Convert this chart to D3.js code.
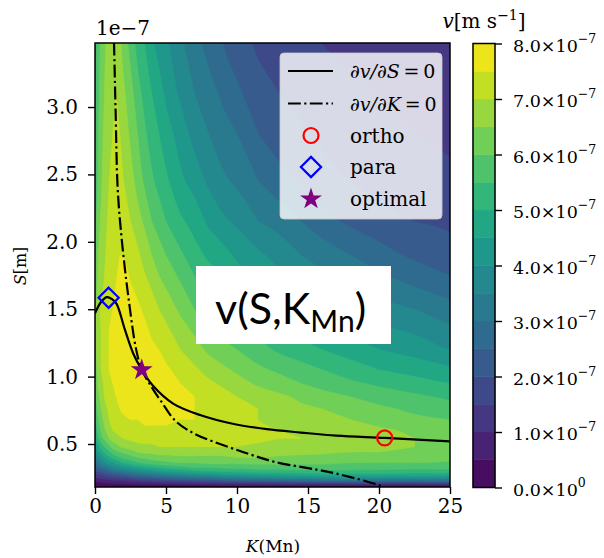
<!DOCTYPE html>
<html lang="en">
<head>
<meta charset="UTF-8">
<title>v(S,K) contour</title>
<script src="https://cdn.jsdelivr.net/npm/d3@7"></script>
<style>
  body { margin: 0; background: #fff; }
  svg { display: block; }
  text { font-family: "DejaVu Serif", serif; fill: #000; }
</style>
</head>
<body>
<svg id="chart" width="604" height="558"></svg>
<script>
// grid of the field: K (Mn) across, S (1e-7 m) up
const kGrid = [0, 0.25, 0.5, 0.75, 1, 1.25, 1.5, 1.75, 2, 2.5, 3, 3.5, 4, 4.5, 5, 6, 7, 8, 9, 10, 11.5, 13, 14.5, 16, 18, 20, 22.5, 25];
const sGrid = [0.18, 0.19, 0.2, 0.21, 0.22, 0.23, 0.24, 0.26, 0.28, 0.3, 0.33, 0.36, 0.4, 0.44, 0.48, 0.54, 0.6, 0.68, 0.76, 0.85, 0.95, 1.05, 1.2, 1.35, 1.5, 1.7, 1.9, 2.15, 2.45, 2.8, 3.1, 3.475];

// v in units of 1e-8 m/s, one row per S value (bottom to top)
const vGrid = [
  [1, 1, 1, 1, 1, 1, 1, 1, 1, 1, 1, 2, 2, 2, 2, 2, 2, 2, 2, 2, 2, 3, 3, 3, 3, 3, 3, 3],
  [2, 2, 2, 2, 2, 3, 3, 3, 3, 3, 3, 3, 3, 4, 4, 4, 4, 4, 5, 5, 5, 5, 5, 6, 6, 6, 6, 6],
  [3, 3, 3, 4, 4, 4, 4, 4, 4, 4, 5, 5, 5, 5, 5, 6, 6, 7, 7, 7, 8, 8, 8, 8, 9, 9, 9, 9],
  [4, 4, 5, 5, 5, 6, 6, 6, 6, 7, 7, 8, 8, 9, 9, 10, 11, 11, 12, 13, 13, 14, 15, 15, 16, 16, 16, 16],
  [5, 5, 6, 6, 7, 7, 8, 8, 8, 9, 10, 11, 11, 12, 13, 14, 15, 16, 17, 18, 19, 20, 21, 22, 23, 23, 23, 23],
  [7, 7, 8, 9, 9, 10, 10, 11, 11, 13, 14, 15, 15, 16, 17, 19, 20, 22, 23, 24, 25, 27, 28, 29, 30, 30, 30, 30],
  [8, 9, 10, 11, 11, 12, 13, 13, 14, 15, 17, 18, 19, 20, 21, 23, 25, 26, 27, 29, 30, 32, 33, 34, 35, 35, 35, 34],
  [11, 12, 13, 15, 16, 17, 18, 19, 20, 22, 24, 25, 27, 28, 29, 32, 34, 35, 37, 38, 40, 41, 42, 43, 44, 44, 44, 43],
  [15, 17, 18, 20, 21, 23, 24, 25, 26, 29, 31, 33, 34, 36, 37, 40, 42, 43, 45, 46, 47, 48, 49, 50, 50, 50, 49, 49],
  [19, 21, 23, 25, 27, 29, 31, 32, 34, 36, 38, 40, 42, 44, 45, 47, 49, 50, 51, 52, 53, 53, 54, 54, 54, 54, 53, 53],
  [25, 27, 30, 32, 35, 37, 38, 40, 42, 44, 47, 49, 50, 51, 53, 54, 56, 56, 57, 57, 58, 58, 58, 58, 58, 57, 57, 57],
  [29, 33, 37, 39, 42, 44, 46, 48, 50, 52, 54, 56, 57, 58, 59, 60, 60, 61, 61, 61, 61, 61, 61, 61, 60, 60, 60, 59],
  [35, 39, 43, 46, 49, 51, 53, 55, 56, 58, 60, 61, 62, 63, 63, 64, 64, 64, 64, 65, 65, 64, 64, 63, 63, 63, 62, 62],
  [39, 44, 48, 52, 54, 57, 59, 60, 61, 63, 65, 66, 66, 67, 67, 67, 67, 67, 67, 67, 67, 67, 66, 66, 65, 65, 64, 63],
  [43, 48, 53, 56, 59, 62, 63, 65, 66, 67, 68, 69, 69, 70, 70, 70, 70, 70, 70, 70, 69, 69, 68, 68, 67, 66, 65, 64],
  [47, 54, 59, 62, 65, 67, 68, 69, 70, 71, 72, 72, 72, 72, 73, 73, 73, 72, 72, 71, 71, 70, 70, 69, 68, 67, 65, 64],
  [51, 57, 62, 65, 68, 70, 71, 72, 73, 73, 74, 74, 74, 74, 74, 74, 74, 74, 73, 72, 72, 70, 69, 68, 67, 66, 64, 63],
  [54, 60, 64, 68, 70, 71, 73, 74, 74, 75, 75, 76, 76, 76, 76, 75, 75, 74, 73, 72, 70, 69, 68, 66, 65, 63, 61, 60],
  [57, 62, 66, 69, 71, 73, 74, 75, 76, 76, 77, 77, 77, 77, 77, 76, 75, 74, 73, 71, 70, 68, 66, 65, 63, 61, 59, 57],
  [59, 64, 68, 71, 73, 74, 75, 76, 77, 77, 78, 78, 78, 78, 77, 76, 75, 73, 72, 70, 68, 66, 64, 62, 60, 58, 56, 54],
  [61, 66, 69, 72, 74, 75, 76, 77, 78, 78, 79, 79, 79, 78, 77, 75, 73, 71, 69, 67, 64, 62, 60, 58, 56, 54, 52, 50],
  [62, 67, 71, 73, 75, 76, 77, 78, 78, 79, 79, 79, 78, 77, 76, 73, 71, 68, 66, 64, 61, 59, 57, 55, 52, 50, 48, 46],
  [64, 68, 71, 73, 75, 76, 77, 78, 78, 79, 79, 77, 76, 75, 73, 70, 67, 64, 62, 60, 57, 54, 52, 50, 48, 45, 43, 40],
  [64, 68, 71, 73, 75, 76, 77, 77, 78, 78, 77, 76, 74, 72, 71, 67, 64, 61, 58, 56, 53, 51, 48, 46, 43, 41, 39, 36],
  [65, 69, 71, 73, 74, 75, 76, 76, 77, 77, 76, 74, 72, 70, 68, 64, 60, 58, 55, 53, 50, 47, 45, 42, 40, 37, 35, 32],
  [62, 66, 69, 71, 73, 74, 75, 75, 76, 75, 73, 71, 69, 66, 64, 60, 56, 53, 51, 48, 45, 42, 39, 37, 35, 32, 29, 26],
  [60, 65, 68, 70, 72, 73, 74, 75, 75, 73, 71, 68, 65, 62, 60, 56, 52, 49, 47, 44, 41, 38, 35, 33, 30, 27, 24, 22],
  [58, 63, 67, 69, 71, 72, 73, 74, 73, 70, 67, 64, 60, 58, 55, 51, 48, 44, 41, 39, 35, 33, 30, 27, 24, 22, 20, 19],
  [56, 61, 65, 68, 70, 71, 72, 72, 70, 67, 63, 59, 56, 53, 51, 46, 43, 39, 36, 34, 30, 27, 24, 22, 20, 18, 17, 16],
  [54, 60, 64, 67, 69, 70, 71, 70, 68, 64, 60, 56, 52, 50, 47, 43, 38, 35, 32, 30, 25, 22, 21, 19, 17, 16, 15, 14],
  [53, 59, 63, 66, 68, 69, 70, 68, 66, 62, 57, 53, 50, 47, 44, 39, 35, 32, 29, 26, 22, 20, 18, 17, 16, 15, 13, 12],
  [52, 58, 62, 65, 67, 68, 67, 66, 63, 58, 53, 50, 46, 43, 41, 36, 32, 28, 25, 22, 19, 18, 16, 15, 14, 13, 12, 11]
];

// contour levels, 1e-8 m/s
const levels = [0, 5, 10, 15, 20, 25, 30, 35, 40, 45, 50, 55, 60, 65, 70, 75, 80];
const xTicks = [0, 5, 10, 15, 20, 25];
const yTicks = [0.5, 1.0, 1.5, 2.0, 2.5, 3.0];
const cbTicks = [0, 1, 2, 3, 4, 5, 6, 7, 8];

// dv/dS = 0 (solid) and dv/dK = 0 (dash-dot)
const dsK = [0, 0.4, 0.82, 1.2, 1.52, 2.1, 2.7, 3.3, 4.1, 5.5, 7.4, 9.7, 12.1, 14.5, 17, 20.4, 25];
const dsS = [1.47, 1.55, 1.59, 1.575, 1.54, 1.35, 1.17, 1.05, 0.93, 0.8, 0.715, 0.65, 0.61, 0.585, 0.562, 0.545, 0.52];
const dkK = [1.34, 1.45, 1.6, 1.9, 2.4, 2.9, 3.3, 4.0, 4.7, 5.63, 7.0, 9.4, 11.0, 12.7, 15.6, 17, 20.1, 20.4];
const dkS = [3.475, 2.98, 2.39, 2.0, 1.55, 1.2, 1.05, 0.92, 0.81, 0.675, 0.576, 0.478, 0.42, 0.366, 0.31, 0.28, 0.19, 0.17];

const pointNames = ["ortho", "para", "optimal"];
const pointK = [20.4, 0.96, 3.29];
const pointS = [0.545, 1.585, 1.05];

const svg = d3.select("#chart");
const plot = { left: 95, right: 450, top: 43, bottom: 487 };
const x = d3.scaleLinear().domain([0, 25]).range([plot.left, plot.right]);
const y = d3.scaleLinear().domain([0.181, 3.475]).range([plot.bottom, plot.top]);
const color = i => d3.interpolateViridis((i + 0.5) / 16);

svg.append("rect").attr("width", 604).attr("height", 558).attr("fill", "#fff");
svg.append("clipPath").attr("id", "clip")
  .append("rect")
  .attr("x", plot.left).attr("y", plot.top)
  .attr("width", plot.right - plot.left).attr("height", plot.bottom - plot.top);

// filled contours: grid index -> data value -> pixel, rings drawn as smooth closed curves
const kIdx = d3.scaleLinear().domain(d3.range(kGrid.length)).range(kGrid);
const sIdx = d3.scaleLinear().domain(d3.range(sGrid.length)).range(sGrid);
const toPx = ([px, py]) => [x(kIdx(px - 0.5)), y(sIdx(py - 0.5))];
const ringLine = d3.line().curve(d3.curveCatmullRomClosed.alpha(0.5));
const contourPath = c => c.coordinates
  .map(poly => poly.map(ring => ringLine(ring.slice(0, -1).map(toPx))).join(""))
  .join("");
const contours = d3.contours()
  .size([kGrid.length, sGrid.length])
  .thresholds(levels.slice(0, -1))(vGrid.flat());

const g = svg.append("g").attr("clip-path", "url(#clip)");
g.selectAll("path.band")
  .data(contours)
  .join("path")
  .attr("class", "band")
  .attr("d", contourPath)
  .attr("fill-rule", "evenodd")
  .attr("fill", (d, i) => color(i))
  .attr("stroke", (d, i) => color(i))
  .attr("stroke-width", 0.6);

const line = d3.line().x(d => x(d[0])).y(d => y(d[1])).curve(d3.curveCatmullRom);
g.append("path")
  .attr("d", line(d3.zip(dsK, dsS)))
  .attr("fill", "none").attr("stroke", "#000").attr("stroke-width", 2.2);
g.append("path")
  .attr("d", line(d3.zip(dkK, dkS)))
  .attr("fill", "none").attr("stroke", "#000").attr("stroke-width", 2.2)
  .attr("stroke-dasharray", "12.8,3.4,2.2,3.4");

const star = d3.symbol().type(d3.symbolStar).size(150);
const diamond = d3.symbol().type(d3.symbolDiamond2).size(260);
function marker(sel, name) {
  if (name === "ortho") {
    sel.append("circle").attr("r", 7.5).attr("fill", "none").attr("stroke", "#f00").attr("stroke-width", 2.2);
  } else if (name === "para") {
    sel.append("path").attr("d", diamond()).attr("fill", "none").attr("stroke", "#00f").attr("stroke-width", 2.2);
  } else {
    sel.append("path").attr("d", star()).attr("fill", "#800080");
  }
}
pointNames.forEach((n, i) => {
  const m = svg.append("g").attr("transform", `translate(${x(pointK[i])},${y(pointS[i])})`);
  marker(m, n);
});

// frame and axes
svg.append("rect")
  .attr("x", plot.left).attr("y", plot.top)
  .attr("width", plot.right - plot.left).attr("height", plot.bottom - plot.top)
  .attr("fill", "none").attr("stroke", "#000").attr("stroke-width", 1.5);

const xAxis = svg.append("g").attr("transform", `translate(0,${plot.bottom})`)
  .call(d3.axisBottom(x).tickValues(xTicks).tickFormat(d3.format("d")).tickSize(7).tickPadding(5));
const yAxis = svg.append("g").attr("transform", `translate(${plot.left},0)`)
  .call(d3.axisLeft(y).tickValues(yTicks).tickFormat(d3.format(".1f")).tickSize(7).tickPadding(10));
[xAxis, yAxis].forEach(a => {
  a.select(".domain").remove();
  a.selectAll(".tick line").attr("stroke", "#000").attr("stroke-width", 1.4);
  a.selectAll(".tick text").attr("font-family", "DejaVu Serif").attr("font-size", 20).attr("fill", "#000");
});

svg.append("text").attr("x", 96).attr("y", 35).attr("font-size", 20).text("1e\u22127");
svg.append("text").attr("x", 273).attr("y", 552).attr("text-anchor", "middle").attr("font-size", 17)
  .call(t => { t.append("tspan").attr("font-style", "italic").text("K"); t.append("tspan").text("(Mn)"); });
svg.append("text").attr("transform", "translate(26,266) rotate(-90)").attr("text-anchor", "middle").attr("font-size", 16)
  .call(t => { t.append("tspan").attr("font-style", "italic").text("S"); t.append("tspan").text("[m]"); });

// pasted label box
svg.append("rect").attr("x", 196).attr("y", 266).attr("width", 195).attr("height", 78).attr("fill", "#fff");
svg.append("text").attr("x", 215).attr("y", 324)
  .style("font-family", "Lato, 'Open Sans', sans-serif").attr("font-size", 43)
  .call(t => {
    t.append("tspan").text("v(S,K");
    t.append("tspan").attr("font-size", 30).attr("dy", 8).text("Mn");
    t.append("tspan").attr("dy", -8).text(")");
  });

// legend
const leg = svg.append("g");
leg.append("rect").attr("x", 280).attr("y", 53).attr("width", 162).attr("height", 166).attr("rx", 4)
  .attr("fill", "rgba(255,255,255,0.8)").attr("stroke", "rgba(204,204,204,0.8)");
const rowY = [71, 103.5, 135.5, 167, 199];
const legendItems = ["dS", "dK", "ortho", "para", "optimal"];
legendItems.forEach((item, i) => {
  const row = leg.append("g").attr("transform", `translate(0,${rowY[i]})`);
  if (item === "dS" || item === "dK") {
    row.append("line").attr("x1", 288).attr("x2", 333).attr("stroke", "#000").attr("stroke-width", 2.2)
      .attr("stroke-dasharray", item === "dK" ? "12.8,3.4,2.2,3.4" : null);
    const t = row.append("text").attr("x", 350).attr("y", 7).attr("font-size", 19);
    t.append("tspan").attr("font-style", "italic").text("\u2202v/\u2202" + (item === "dS" ? "S" : "K"));
    t.append("tspan").text("\u2009=\u20090");
  } else {
    const m = row.append("g").attr("transform", "translate(311,0)");
    marker(m, item);
    row.append("text").attr("x", 350).attr("y", 7).attr("font-size", 20).text(item);
  }
});

// colorbar
const cb = { left: 473, right: 495 };
const yc = d3.scaleLinear().domain([0, 80]).range([487.5, 43.5]);
svg.append("g").selectAll("rect")
  .data(d3.range(levels.length - 1))
  .join("rect")
  .attr("x", cb.left).attr("width", cb.right - cb.left)
  .attr("y", i => yc(levels[i + 1])).attr("height", i => yc(levels[i]) - yc(levels[i + 1]))
  .attr("fill", i => color(i)).attr("stroke", i => color(i)).attr("stroke-width", 0.5);
svg.append("rect").attr("x", cb.left).attr("y", yc(80)).attr("width", cb.right - cb.left)
  .attr("height", yc(0) - yc(80)).attr("fill", "none").attr("stroke", "#000").attr("stroke-width", 1.5);
const cbAxis = svg.append("g").attr("transform", `translate(${cb.right},0)`)
  .call(d3.axisRight(yc).tickValues(cbTicks.map(d => d * 10)).tickSize(7).tickPadding(11).tickFormat(""));
cbAxis.select(".domain").remove();
cbAxis.selectAll(".tick line").attr("stroke", "#000").attr("stroke-width", 1.4);
cbAxis.selectAll(".tick text").attr("font-size", 17.5).attr("font-family", "DejaVu Serif").attr("fill", "#000")
  .attr("dy", "0.45em")
  .each(function(d) {
    const t = d3.select(this);
    t.append("tspan").text(d3.format(".1f")(d / 10) + "\u00d710");
    t.append("tspan").attr("font-size", 12.5).attr("dy", "-0.75em").text(d === 0 ? "0" : "\u22127");
  });
svg.append("text").attr("x", 484).attr("y", 28).attr("text-anchor", "middle").attr("font-size", 20)
  .call(t => {
    t.append("tspan").attr("font-style", "italic").text("v");
    t.append("tspan").text("[m s");
    t.append("tspan").attr("font-size", 14).attr("dy", -8).text("\u22121");
    t.append("tspan").attr("dy", 8).text("]");
  });
</script>
</body>
</html>
